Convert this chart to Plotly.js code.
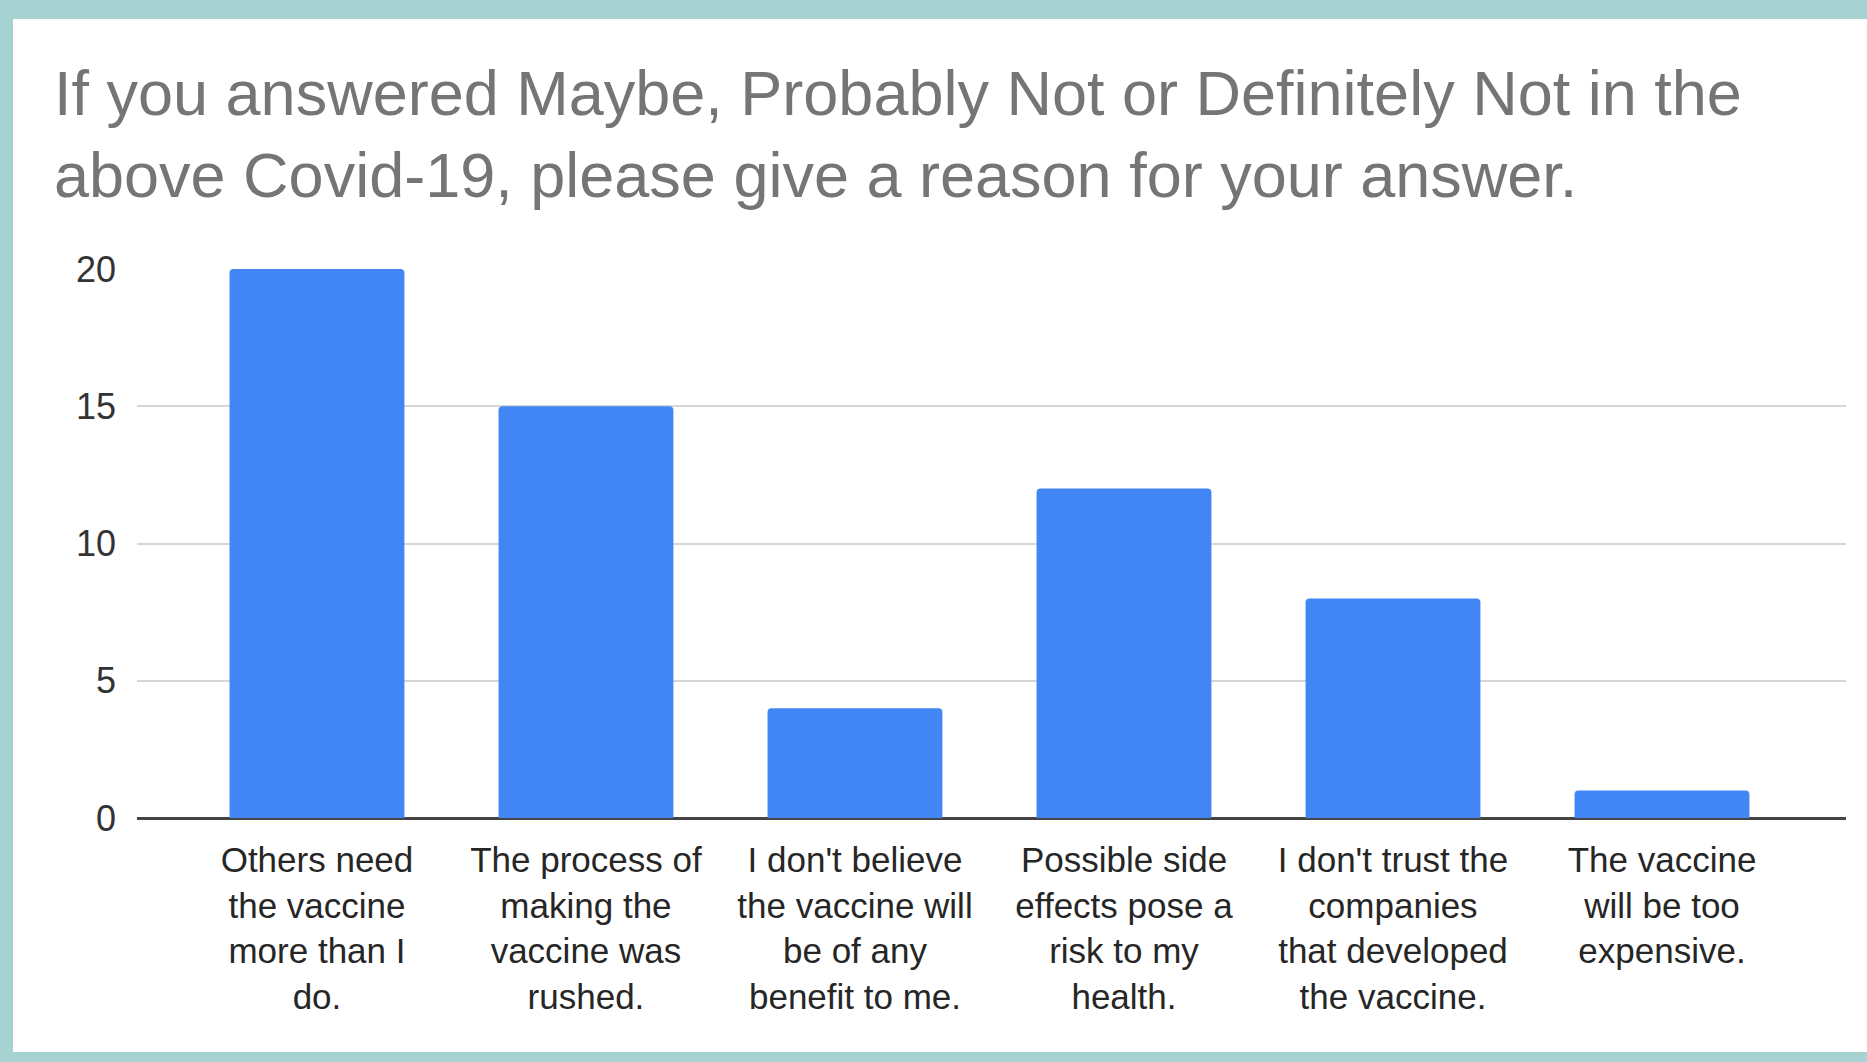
<!DOCTYPE html>
<html>
<head>
<meta charset="utf-8">
<script src="https://cdn.plot.ly/plotly-3.0.1.min.js"></script>
<style>
  html, body { margin: 0; padding: 0; width: 1867px; height: 1062px; overflow: hidden; background: #a6d3d1; }
  #card { position: absolute; left: 13px; top: 19px; width: 1854px; height: 1033px; background: #ffffff; }
  #chart { width: 1854px; height: 1033px; }
</style>
</head>
<body>
<div id="card"><div id="chart"></div></div>
<script>
// Survey responses: reasons for hesitancy about the Covid-19 vaccine
const reasons = [
  "Others need<br>the vaccine<br>more than I<br>do.",
  "The process of<br>making the<br>vaccine was<br>rushed.",
  "I don't believe<br>the vaccine will<br>be of any<br>benefit to me.",
  "Possible side<br>effects pose a<br>risk to my<br>health.",
  "I don't trust the<br>companies<br>that developed<br>the vaccine.",
  "The vaccine<br>will be too<br>expensive."
];
const responses = [20, 15, 4, 12, 8, 1];
const yTicks = [0, 5, 10, 15, 20];

const chartTitle = "If you answered Maybe, Probably Not or Definitely Not in the<br>above Covid-19, please give a reason for your answer.";

const fontFamily = "Arial, 'Liberation Sans', sans-serif";

const trace = {
  type: "bar",
  x: reasons,
  y: responses,
  width: 0.65,
  marker: { color: "#4285f4", cornerradius: 4 },
  hoverinfo: "x+y"
};

const layout = {
  width: 1854,
  height: 1033,
  paper_bgcolor: "#ffffff",
  plot_bgcolor: "#ffffff",
  margin: { l: 124, r: 21, t: 250, b: 234 },
  showlegend: false,
  title: {
    text: chartTitle,
    font: { family: fontFamily, size: 63, color: "#757575" },
    x: 0.0221, xref: "container", xanchor: "left",
    y: 0.907, yref: "container", yanchor: "top",
    automargin: false
  },
  xaxis: {
    type: "category",
    range: [-0.669, 5.684],
    showgrid: false,
    zeroline: false,
    showline: false,
    ticks: "",
    tickangle: 0,
    ticklabelstandoff: 18,
    tickfont: { family: fontFamily, size: 35, color: "#262626" },
    fixedrange: true
  },
  yaxis: {
    range: [0, 20],
    tickvals: yTicks,
    ticktext: yTicks.map(String),
    showgrid: true,
    gridcolor: "#d6d6d6",
    gridwidth: 2,
    zeroline: true,
    zerolinecolor: "#444444",
    zerolinewidth: 3,
    showline: false,
    ticks: "",
    ticklabelstandoff: 20,
    tickfont: { family: fontFamily, size: 36, color: "#333333" },
    fixedrange: true
  },
  bargap: 0.35
};

Plotly.newPlot("chart", [trace], layout, { displayModeBar: false, staticPlot: true });
</script>
</body>
</html>
